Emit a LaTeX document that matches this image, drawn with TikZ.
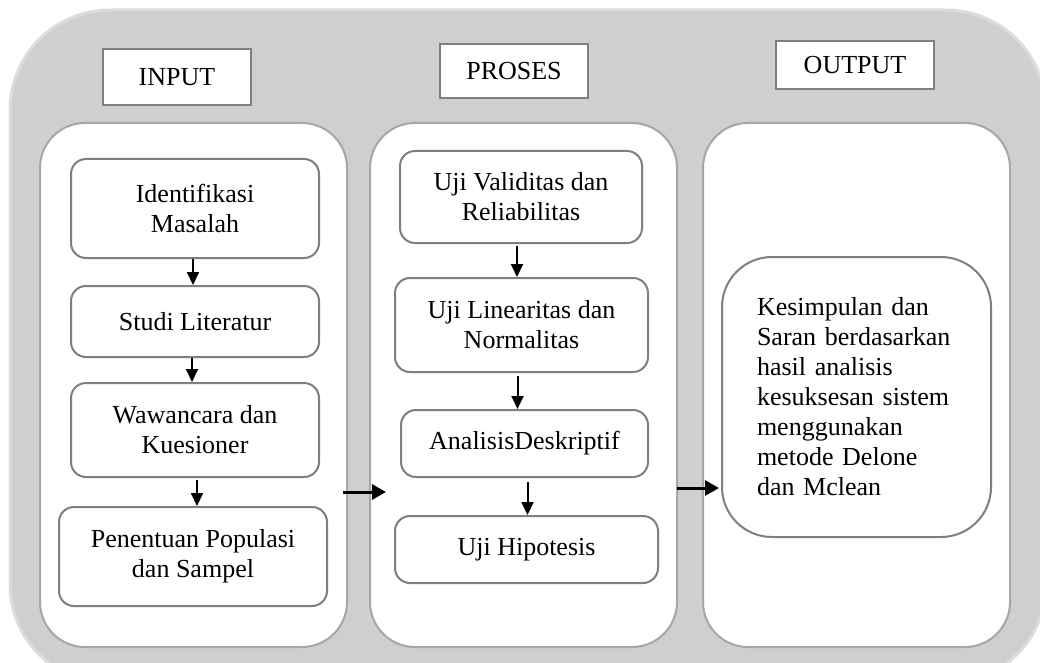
\documentclass[tikz,border=0pt]{standalone}
\usepackage{fontspec}
\setmainfont{Liberation Serif}
\usetikzlibrary{arrows.meta}
\definecolor{outerfill}{HTML}{D0CFD0}
\definecolor{outerline}{HTML}{DCDCDC}
\definecolor{colline}{HTML}{A6A6A6}
\definecolor{boxline}{HTML}{7F7F7F}
\tikzset{
  txt/.style={font=\fontsize{26}{30}\selectfont, text=black},
  colbox/.style={draw=colline, line width=2pt, fill=white, rounded corners=45pt, inner sep=0pt},
  titlebox/.style={txt, draw=boxline, line width=2.5pt, fill=white, inner sep=0pt},
  stepbox/.style={txt, draw=boxline, line width=2pt, fill=white, rounded corners=15pt, inner sep=0pt, align=center},
  varrow/.style={line width=2pt, -{Triangle[length=13pt,width=12pt]}},
  harrow/.style={line width=3pt, -{Triangle[length=14pt,width=15pt]}}
}
\begin{document}
\begin{tikzpicture}[x=1pt,y=-1pt]
\useasboundingbox (0,0) rectangle (1040,663);
\clip (0,0) rectangle (1040,663);
% outer gray panel
\draw[fill=outerfill, draw=outerline, line width=3pt, rounded corners=100pt] (10,10) rectangle (1046,684);

% columns
\node[colbox, minimum width=307pt, minimum height=524pt] (col1) at (193.5,385) {};
\node[colbox, minimum width=307pt, minimum height=524pt] (col2) at (523.5,385) {};
\node[colbox, minimum width=307pt, minimum height=524pt] (col3) at (856.5,385) {};

% titles
\node[titlebox, minimum width=148pt, minimum height=56pt] (tin) at (177,77) {INPUT};
\node[titlebox, minimum width=148pt, minimum height=54pt] (tpr) at (514,71) {PROSES};
\node[titlebox, minimum width=158pt, minimum height=48pt] (tout) at (855,65) {OUTPUT};

% input steps
\node[stepbox, minimum width=248pt, minimum height=99pt] (b1) at (195,208.5) {Identifikasi\\Masalah};
\node[stepbox, minimum width=248pt, minimum height=71pt] (b2) at (195,321.5) {Studi Literatur};
\node[stepbox, minimum width=248pt, minimum height=94pt] (b3) at (195,430) {Wawancara dan\\Kuesioner};
\node[stepbox, minimum width=268pt, minimum height=99pt] (b4) at (193,556.5) {Penentuan Populasi\\dan Sampel};

% process steps
\node[stepbox, minimum width=242pt, minimum height=92pt] (c1) at (521,197) {Uji Validitas dan\\Reliabilitas};
\node[stepbox, minimum width=253pt, minimum height=94pt] (c2) at (521.5,325) {Uji Linearitas dan\\Normalitas};
\node[stepbox, minimum width=247pt, minimum height=67pt] (c3) at (524.5,443.5) {AnalisisDeskriptif};
\node[stepbox, minimum width=263pt, minimum height=67pt] (c4) at (526.5,549.5) {Uji Hipotesis};

% output
\node[stepbox, rounded corners=50pt, minimum width=269pt, minimum height=280pt, text width=199pt, align=left] (d1) at (856.5,397) {Kesimpulan dan\\Saran berdasarkan\\hasil analisis\\kesuksesan sistem\\menggunakan\\metode Delone\\dan Mclean};

% vertical arrows
\draw[varrow] ([xshift=-2pt]b1.south) -- ([xshift=-2pt]b1.south |- b2.north);
\draw[varrow] ([xshift=-3pt]b2.south) -- ([xshift=-3pt]b2.south |- b3.north);
\draw[varrow] ([xshift=2pt,yshift=-2pt]b3.south) -- ([xshift=2pt]b3.south |- b4.north);
\draw[varrow] ([xshift=-4pt,yshift=-2pt]c1.south) -- ([xshift=-4pt]c1.south |- c2.north);
\draw[varrow] ([xshift=-4pt,yshift=-3pt]c2.south) -- ([xshift=-4pt]c2.south |- c3.north);
\draw[varrow] ([xshift=3pt,yshift=-4pt]c3.south) -- ([xshift=3pt]c3.south |- c4.north);

% horizontal arrows
\coordinate (h1s) at (343,492);
\coordinate (h1e) at (386,492);
\coordinate (h2s) at (677,488);
\coordinate (h2e) at (719,488);
\draw[harrow] (h1s) -- (h1e);
\draw[harrow] (h2s) -- (h2e);
\end{tikzpicture}
\end{document}
